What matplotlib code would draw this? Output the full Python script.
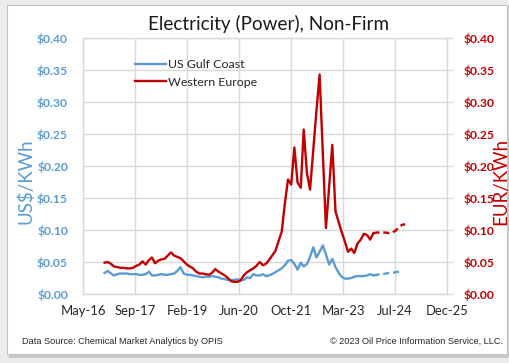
import matplotlib
matplotlib.use("Agg")
import matplotlib.pyplot as plt
import matplotlib.dates as mdates
from matplotlib.patches import Rectangle
import pandas as pd

# Monthly prices, Dec 2016 - Jan 2024 (USD/kWh for US Gulf Coast, EUR/kWh for Western Europe)
hist_start = "2016-12-01"
us_gulf = [
    0.033, 0.036, 0.032, 0.029, 0.031, 0.032, 0.032, 0.032, 0.031, 0.031,
    0.031, 0.030, 0.030, 0.031, 0.035, 0.029, 0.029, 0.030, 0.031, 0.030,
    0.030, 0.031, 0.032, 0.036, 0.042, 0.032, 0.030, 0.030, 0.029, 0.028,
    0.027, 0.026, 0.027, 0.027, 0.028, 0.027, 0.026, 0.024, 0.023, 0.022,
    0.022, 0.022, 0.023, 0.022, 0.022, 0.026, 0.025, 0.031, 0.029, 0.029,
    0.031, 0.028, 0.029, 0.031, 0.034, 0.037, 0.040, 0.045, 0.052, 0.053,
    0.047, 0.038, 0.049, 0.043, 0.047, 0.058, 0.073, 0.057, 0.066, 0.076,
    0.062, 0.046, 0.055, 0.042, 0.033, 0.027, 0.024, 0.024, 0.025, 0.027,
    0.028, 0.028, 0.028, 0.029, 0.031, 0.029,
]
western_europe = [
    0.049, 0.050, 0.047, 0.043, 0.042, 0.041, 0.041, 0.040, 0.040, 0.041,
    0.044, 0.046, 0.051, 0.046, 0.053, 0.057, 0.048, 0.052, 0.054, 0.055,
    0.060, 0.065, 0.060, 0.058, 0.056, 0.051, 0.046, 0.043, 0.040, 0.035,
    0.032, 0.032, 0.031, 0.030, 0.033, 0.039, 0.035, 0.032, 0.029, 0.025,
    0.020, 0.019, 0.019, 0.021, 0.029, 0.034, 0.037, 0.040, 0.044, 0.050,
    0.045, 0.047, 0.053, 0.060, 0.067, 0.082, 0.097, 0.142, 0.179, 0.171,
    0.229, 0.174, 0.166, 0.257, 0.189, 0.163, 0.225, 0.285, 0.343, 0.220,
    0.103, 0.168, 0.233, 0.129, 0.112, 0.097, 0.082, 0.066, 0.071, 0.064,
    0.079, 0.085, 0.094, 0.092, 0.085, 0.095,
]

# Forecast, Jan 2024 onward
fc_start = "2024-01-01"
us_gulf_fc = [0.029, 0.030, 0.031, 0.031, 0.032, 0.033, 0.033, 0.034, 0.035, 0.036]
western_europe_fc = [0.095, 0.096, 0.096, 0.096, 0.096, 0.095, 0.096, 0.099, 0.104, 0.108, 0.109]

series_names = ["US Gulf Coast", "Western Europe"]
y_ticks = [0.00, 0.05, 0.10, 0.15, 0.20, 0.25, 0.30, 0.35, 0.40]
x_tick_start = "2016-05-10"
x_tick_step_days = 500
x_tick_count = 8

BLUE = "#5b9bd5"
RED = "#c00000"
GRID = "#d9d9d9"
FONT = "Lato"

plt.rcParams["font.family"] = [FONT, "DejaVu Sans"]

W, H = 510, 363
fig = plt.figure(figsize=(W / 100, H / 100), dpi=100, facecolor="#ececec")

# card background with a soft shadow
fig.patches.append(Rectangle((9 / W, 1 - 358 / H), 500 / W, 352 / H,
                             transform=fig.transFigure, facecolor="#c8c8c8",
                             edgecolor="none", zorder=-10))
fig.patches.append(Rectangle((7 / W, 1 - 354 / H), 500 / W, 349 / H,
                             transform=fig.transFigure, facecolor="white",
                             edgecolor="#c4c4c4", linewidth=0.8, zorder=-9))

L, R, T, B = 83.3, 447.0, 38.0, 294.0
ax = fig.add_axes([L / W, 1 - B / H, (R - L) / W, (B - T) / H])
ax.set_facecolor("none")
ax.set_zorder(2)

hist_dates = pd.date_range(hist_start, periods=len(us_gulf), freq="MS")
fc_dates_us = pd.date_range(fc_start, periods=len(us_gulf_fc), freq="MS")
fc_dates_eu = pd.date_range(fc_start, periods=len(western_europe_fc), freq="MS")

lw = 1.7
ax.plot(hist_dates, us_gulf, color=BLUE, lw=lw, label=series_names[0],
        solid_joinstyle="round", zorder=3)
ax.plot(hist_dates, western_europe, color=RED, lw=lw, label=series_names[1],
        solid_joinstyle="round", zorder=4)
ax.plot(fc_dates_us, us_gulf_fc, color=BLUE, lw=lw, dashes=(2.6, 1.6), zorder=3)
ax.plot(fc_dates_eu, western_europe_fc, color=RED, lw=lw, dashes=(2.6, 1.6), zorder=4)

xticks = pd.date_range(x_tick_start, periods=x_tick_count,
                       freq=f"{x_tick_step_days}D")
ax.set_xlim(xticks[0], xticks[-1])
ax.set_xticks(xticks)
ax.xaxis.set_major_formatter(mdates.DateFormatter("%b-%y"))
ax.set_ylim(y_ticks[0], y_ticks[-1])
ax.set_yticks(y_ticks)
ax.yaxis.set_major_formatter(lambda v, p: f"${v:.2f}")

ax.grid(True, color=GRID, lw=1.0, zorder=0)
for s in ax.spines.values():
    s.set_color(GRID)
    s.set_linewidth(1.0)
ax.tick_params(axis="x", length=0, pad=8, labelsize=9.4, labelcolor="#262626")
ax.tick_params(axis="y", length=0, pad=11, labelsize=8.7, labelcolor=BLUE)
for lbl in ax.get_yticklabels():
    lbl.set_fontweight("bold")

# right-hand EUR axis on the same scale
ax2 = ax.twinx()
ax2.set_zorder(1)
ax2.set_ylim(ax.get_ylim())
ax2.set_yticks(y_ticks)
ax2.yaxis.set_major_formatter(lambda v, p: f"${v:.2f}")
ax2.tick_params(axis="y", length=4, width=1.0, color=GRID, pad=8,
                labelsize=8.7, labelcolor=RED)
for lbl in ax2.get_yticklabels():
    lbl.set_fontweight("bold")
for s in ax2.spines.values():
    s.set_visible(False)

fig.text(269 / W, 1 - 24 / H, "Electricity (Power), Non-Firm", ha="center",
         va="center", fontsize=13.6, color="#1a1a1a")
fig.text(26 / W, 1 - 181 / H, "US$/KWh", rotation=90, ha="center",
         va="center", fontsize=13.5, color=BLUE)
fig.text(501 / W, 1 - 181 / H, "EUR/KWh", rotation=90, ha="center",
         va="center", fontsize=13.5, color=RED)

leg = ax.legend(loc="upper left", bbox_to_anchor=(0.142, 0.918), frameon=False,
                fontsize=8.9, handlelength=2.5, handletextpad=0.2,
                labelspacing=0.55, borderpad=0, borderaxespad=0)
for t in leg.get_texts():
    t.set_color("#262626")

fig.text(22 / W, 1 - 341 / H, "Data Source: Chemical Market Analytics by OPIS",
         ha="left", va="center", fontsize=6.6, family="Liberation Sans",
         color="#262626")
fig.text(503 / W, 1 - 341 / H, "\u00a9 2023 Oil Price Information Service, LLC.",
         ha="right", va="center", fontsize=6.6, family="Liberation Sans",
         color="#262626")

fig.savefig("out.png", dpi=100, facecolor=fig.get_facecolor())
